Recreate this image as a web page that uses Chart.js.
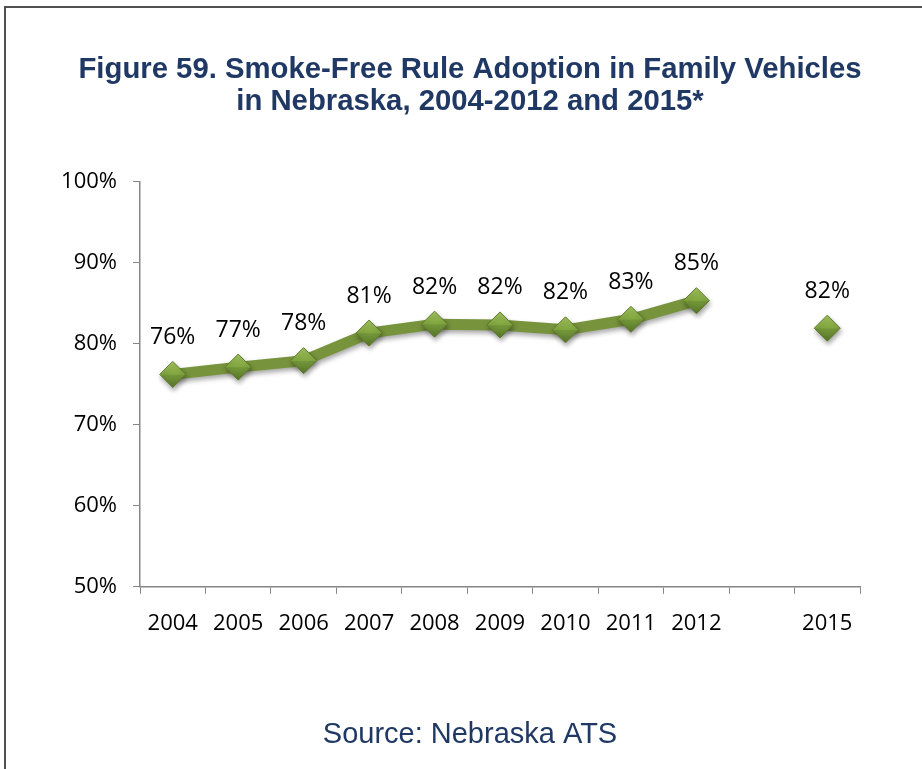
<!DOCTYPE html>
<html>
<head>
<meta charset="utf-8">
<script src="https://cdn.jsdelivr.net/npm/chart.js@4.4.1/dist/chart.umd.min.js"></script>
<style>
  html, body { margin: 0; padding: 0; background: #fff; overflow: hidden; }
  #frame {
    position: absolute; left: 4px; top: 6px; width: 918px; height: 763px;
    border-top: 2px solid #505050; border-left: 2px solid #505050;
  }
  #wrap { position: absolute; left: 0; top: 0; width: 916px; height: 761px; }
</style>
</head>
<body>
<div id="frame">
  <div id="wrap"><canvas id="chartCanvas"></canvas></div>
</div>
<script>
// survey years; the empty slot keeps the 2013-2014 gap on the axis
const years = ['2004', '2005', '2006', '2007', '2008', '2009', '2010', '2011', '2012', '', '2015'];
// share of households with a smoke-free rule in family vehicles (%)
const adoption = [76.2, 77.1, 77.9, 81.3, 82.4, 82.3, 81.7, 83.0, 85.3, null, 81.9];
const yTicks = [50, 60, 70, 80, 90, 100];

const titleLines = [
  'Figure 59. Smoke-Free Rule Adoption in Family Vehicles',
  'in Nebraska, 2004-2012 and 2015*'
];
const sourceText = 'Source: Nebraska ATS';

const navy = '#1F3864';
const olive = '#77933C';
const axisGray = '#868686';
const markerSize = 13;

Chart.defaults.font.family = "'Open Sans', sans-serif";

// soft drop shadow under the line and markers
const shadow = {
  id: 'shadow',
  beforeDatasetDraw(chart) {
    const ctx = chart.ctx;
    ctx.save();
    ctx.shadowColor = 'rgba(0,0,0,0.35)';
    ctx.shadowBlur = 5;
    ctx.shadowOffsetX = 1;
    ctx.shadowOffsetY = 3;
  },
  afterDatasetDraw(chart) {
    chart.ctx.restore();
  }
};

// percent labels above each point
const valueLabels = {
  id: 'valueLabels',
  afterDatasetsDraw(chart) {
    const ctx = chart.ctx;
    const meta = chart.getDatasetMeta(0);
    ctx.save();
    ctx.font = "23px 'Open Sans'";
    ctx.fillStyle = '#000';
    ctx.textAlign = 'center';
    ctx.textBaseline = 'middle';
    meta.data.forEach((pt, i) => {
      const v = adoption[i];
      if (v == null) return;
      ctx.fillText(Math.round(v) + '%', pt.x, pt.y - 37);
    });
    ctx.restore();
  }
};

// lighter top, darker bottom on each diamond
function markerFill(context) {
  const chart = context.chart;
  const v = context.raw;
  const yScale = chart.scales.y;
  if (v == null || !yScale) return olive;
  const y = yScale.getPixelForValue(v);
  if (!Number.isFinite(y)) return olive;
  const g = chart.ctx.createLinearGradient(0, y - markerSize, 0, y + markerSize);
  g.addColorStop(0, '#A2C55E');
  g.addColorStop(0.5, '#82A740');
  g.addColorStop(0.52, '#74973A');
  g.addColorStop(1, '#58772A');
  return g;
}

const ctx = document.getElementById('chartCanvas').getContext('2d');

new Chart(ctx, {
  type: 'line',
  data: {
    labels: years,
    datasets: [{
      data: adoption,
      borderColor: olive,
      borderWidth: 11,
      spanGaps: false,
      tension: 0,
      pointStyle: 'rectRot',
      pointRadius: markerSize,
      pointBackgroundColor: markerFill,
      pointBorderColor: '#5F7A2A',
      pointBorderWidth: 1
    }]
  },
  options: {
    responsive: true,
    maintainAspectRatio: false,
    animation: false,
    layout: { padding: { left: 12, right: 0, top: 0, bottom: 0 } },
    plugins: {
      legend: { display: false },
      tooltip: { enabled: false },
      title: {
        display: true,
        text: titleLines,
        color: navy,
        font: { family: "'Liberation Sans', Arial, sans-serif", size: 29.3, weight: 'bold', lineHeight: 1.1 },
        padding: { top: 46, bottom: 63 }
      },
      subtitle: {
        display: true,
        position: 'bottom',
        text: sourceText,
        color: navy,
        font: { family: "'Liberation Sans', Arial, sans-serif", size: 29, weight: 'normal', lineHeight: 1.2 },
        padding: { top: 63, bottom: 17 }
      }
    },
    scales: {
      x: {
        offset: true,
        grid: {
          offset: true,
          drawOnChartArea: false,
          drawTicks: true,
          tickLength: 7,
          color: axisGray
        },
        border: { display: true, color: axisGray, width: 1.5 },
        ticks: {
          color: '#000',
          font: { size: 22 },
          padding: 17,
          maxRotation: 0,
          autoSkip: false
        }
      },
      y: {
        min: yTicks[0],
        max: yTicks[yTicks.length - 1],
        afterFit(scale) { scale.width = 122; },
        afterBuildTicks(scale) { scale.ticks = yTicks.map(v => ({ value: v })); },
        grid: {
          drawOnChartArea: false,
          drawTicks: true,
          tickLength: 7,
          color: axisGray
        },
        border: { display: true, color: axisGray, width: 1.5 },
        ticks: {
          color: '#000',
          font: { size: 22 },
          padding: 16,
          callback: v => v + '%'
        }
      },
      // empty right-hand axis, only reserves the blank space right of the plot
      spacer: {
        type: 'linear',
        position: 'right',
        display: true,
        grid: { display: false },
        border: { display: false },
        ticks: { display: false },
        afterFit(scale) { scale.width = 62; }
      }
    }
  },
  plugins: [shadow, valueLabels]
});
</script>
</body>
</html>
